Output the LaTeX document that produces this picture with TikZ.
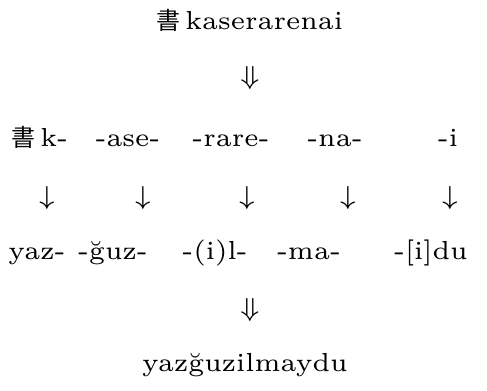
\documentclass[tikz,border=0pt]{standalone}
\usepackage{fontspec}
\newfontfamily\cjk{Noto Sans CJK JP}[Scale=0.92]
\usepackage{tikz}
\tikzset{
  wrd/.style ={inner sep=0pt,anchor=base},
  arw/.style ={inner sep=0pt},
}

\begin{document}
\begin{tikzpicture}[x=0.23pt,y=-0.23pt,font=\fontsize{6}{7}\selectfont]
  \useasboundingbox (0,0) rectangle (487,391);
  \node[wrd] (src) at (250,30) {{\cjk 書}\,kaserarenai};
  \node[arw] (dd1) at (250,78) {$\Downarrow$};
  % source morphemes
  \node[wrd] (s1) at (40,147)  {{\cjk 書}\,k-};
  \node[wrd] (s2) at (128,147) {-ase-};
  \node[wrd] (s3) at (231,147) {-rare-};
  \node[wrd] (s4) at (335,147) {-na-};
  \node[wrd] (s5) at (448,147) {-i};
  \foreach \i/\x in {1/47,2/143,3/247,4/348,5/450}
    \node[arw] (d\i) at (\x,198) {$\downarrow$};
  % target morphemes
  \node[wrd] (t1) at (37,260)  {yaz-};
  \node[wrd] (t2) at (113,260) {-ğuz-};
  \node[wrd] (t3) at (215,260) {-(i)l-};
  \node[wrd] (t4) at (309,260) {-ma-};
  \node[wrd] (t5) at (431,260) {-[i]du};
  \node[arw] (dd2) at (250,310) {$\Downarrow$};
  \node[wrd] (tgt) at (245,372) {yazğuzilmaydu};
\end{tikzpicture}
\end{document}
